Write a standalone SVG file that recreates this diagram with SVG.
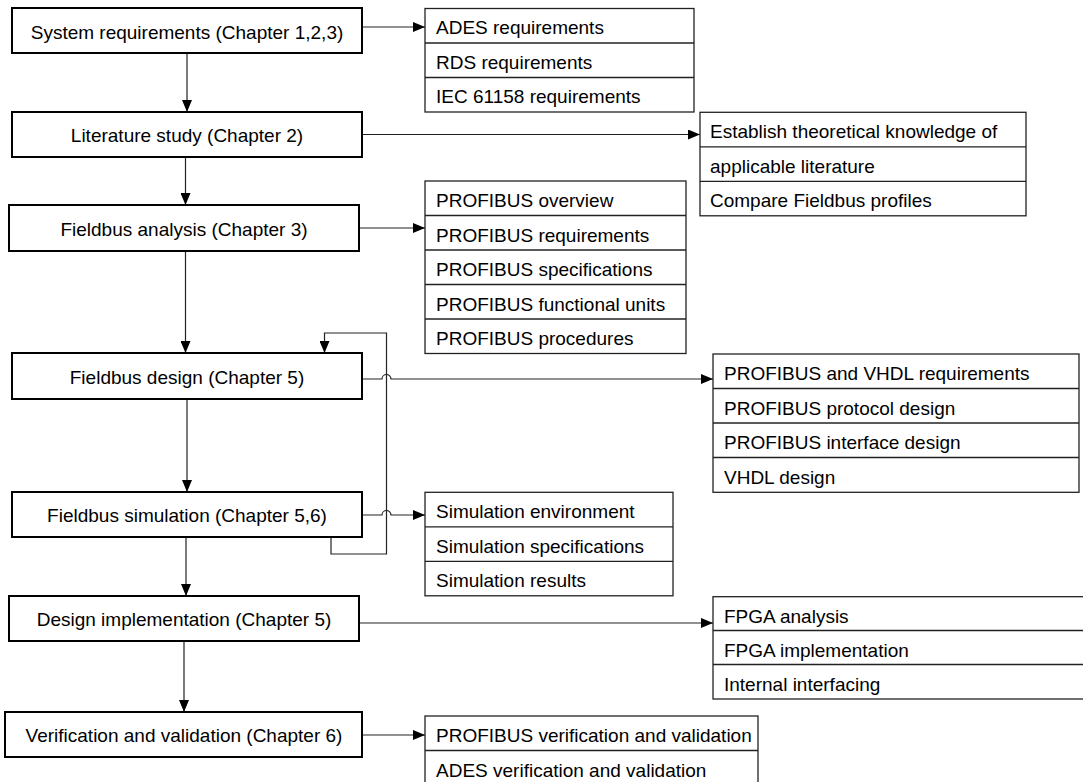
<svg xmlns="http://www.w3.org/2000/svg" width="1083" height="782" viewBox="0 0 1083 782">
  <style>
    .node rect { fill: #fff; stroke: #000; stroke-width: 2; }
    .node text { font-family: "Liberation Sans", Arial, sans-serif; font-size: 19px; fill: #000; text-anchor: middle; }
    .list rect, .list line { fill: #fff; stroke: #222; stroke-width: 1.3; }
    .list text { font-family: "Liberation Sans", Arial, sans-serif; font-size: 19px; fill: #000; }
    .conn path { fill: none; stroke: #222; stroke-width: 1.2; }
  </style>
  <defs>
    <marker id="arrow" markerUnits="userSpaceOnUse" markerWidth="12" markerHeight="10" refX="12" refY="5" orient="auto">
      <path d="M0,0 L12,5 L0,10 z" fill="#000"/>
    </marker>
  </defs>
  <rect width="1083" height="782" fill="#fff"/>

  <!-- connectors -->
  <g id="connectors" class="conn">
    <path d="M187,53 V112" marker-end="url(#arrow)"/>
    <path d="M185.5,157 V205" marker-end="url(#arrow)"/>
    <path d="M185.5,251 V353" marker-end="url(#arrow)"/>
    <path d="M187,399 V492" marker-end="url(#arrow)"/>
    <path d="M186,537 V596" marker-end="url(#arrow)"/>
    <path d="M184,641 V712" marker-end="url(#arrow)"/>
    <path d="M362,27 H425" marker-end="url(#arrow)"/>
    <path d="M362,134.5 H700" marker-end="url(#arrow)"/>
    <path d="M359,228 H425" marker-end="url(#arrow)"/>
    <path d="M362,379 H382 A4.5,4.5 0 0 1 391,379 H713" marker-end="url(#arrow)"/>
    <path d="M362,515 H382 A4.5,4.5 0 0 1 391,515 H425" marker-end="url(#arrow)"/>
    <path d="M359,623 H713" marker-end="url(#arrow)"/>
    <path d="M362,735 H425" marker-end="url(#arrow)"/>
    <!-- feedback loop from simulation back to design -->
    <path d="M331,537 V554 H386.5 V333 H324.5 V353" marker-end="url(#arrow)"/>
  </g>

  <!-- process steps -->
  <g id="n1" class="node"><rect x="12" y="8" width="350" height="45"/><text x="187" y="38.5">System requirements (Chapter 1,2,3)</text></g>
  <g id="n2" class="node"><rect x="12" y="112" width="350" height="45"/><text x="187" y="142">Literature study (Chapter 2)</text></g>
  <g id="n3" class="node"><rect x="9" y="205" width="350" height="46"/><text x="184" y="236">Fieldbus analysis (Chapter 3)</text></g>
  <g id="n4" class="node"><rect x="12" y="353" width="350" height="46"/><text x="187" y="384">Fieldbus design (Chapter 5)</text></g>
  <g id="n5" class="node"><rect x="12" y="492" width="350" height="45"/><text x="187" y="522">Fieldbus simulation (Chapter 5,6)</text></g>
  <g id="n6" class="node"><rect x="9" y="596" width="350" height="45"/><text x="184" y="626">Design implementation (Chapter 5)</text></g>
  <g id="n7" class="node"><rect x="5" y="712" width="357" height="45"/><text x="184" y="742">Verification and validation (Chapter 6)</text></g>

  <!-- task lists -->
  <g id="l1" class="list">
    <rect x="425" y="8.5" width="269" height="103.5"/>
    <line x1="425" y1="43" x2="694" y2="43"/><line x1="425" y1="77.5" x2="694" y2="77.5"/>
    <text x="436" y="34">ADES requirements</text>
    <text x="436" y="68.5">RDS requirements</text>
    <text x="436" y="103">IEC 61158 requirements</text>
  </g>
  <g id="l2" class="list">
    <rect x="700" y="112.3" width="326" height="103.5"/>
    <line x1="700" y1="146.8" x2="1026" y2="146.8"/><line x1="700" y1="181.3" x2="1026" y2="181.3"/>
    <text x="710" y="138.3">Establish theoretical knowledge of</text>
    <text x="710" y="172.8">applicable literature</text>
    <text x="710" y="207.3">Compare Fieldbus profiles</text>
  </g>
  <g id="l3" class="list">
    <rect x="425" y="181" width="261" height="172.5"/>
    <line x1="425" y1="215.5" x2="686" y2="215.5"/><line x1="425" y1="250" x2="686" y2="250"/>
    <line x1="425" y1="284.5" x2="686" y2="284.5"/><line x1="425" y1="319" x2="686" y2="319"/>
    <text x="436" y="207">PROFIBUS overview</text>
    <text x="436" y="241.5">PROFIBUS requirements</text>
    <text x="436" y="276">PROFIBUS specifications</text>
    <text x="436" y="310.5">PROFIBUS functional units</text>
    <text x="436" y="345">PROFIBUS procedures</text>
  </g>
  <g id="l4" class="list">
    <rect x="713" y="354" width="366" height="138.3"/>
    <line x1="713" y1="388.5" x2="1079" y2="388.5"/><line x1="713" y1="423" x2="1079" y2="423"/>
    <line x1="713" y1="457.5" x2="1079" y2="457.5"/>
    <text x="724" y="380">PROFIBUS and VHDL requirements</text>
    <text x="724" y="414.5">PROFIBUS protocol design</text>
    <text x="724" y="449">PROFIBUS interface design</text>
    <text x="724" y="483.5">VHDL design</text>
  </g>
  <g id="l5" class="list">
    <rect x="425" y="492.3" width="248" height="103.5"/>
    <line x1="425" y1="526.8" x2="673" y2="526.8"/><line x1="425" y1="561.3" x2="673" y2="561.3"/>
    <text x="436" y="518.3">Simulation environment</text>
    <text x="436" y="552.8">Simulation specifications</text>
    <text x="436" y="587.3">Simulation results</text>
  </g>
  <g id="l6" class="list">
    <rect x="713" y="596.7" width="390" height="102.3"/>
    <line x1="713" y1="630.5" x2="1083" y2="630.5"/><line x1="713" y1="664.5" x2="1083" y2="664.5"/>
    <text x="724" y="622.5">FPGA analysis</text>
    <text x="724" y="656.5">FPGA implementation</text>
    <text x="724" y="690.5">Internal interfacing</text>
  </g>
  <g id="l7" class="list">
    <rect x="425" y="716" width="333" height="69"/>
    <line x1="425" y1="750.5" x2="758" y2="750.5"/>
    <text x="436" y="742">PROFIBUS verification and validation</text>
    <text x="436" y="776.5">ADES verification and validation</text>
  </g>
</svg>
